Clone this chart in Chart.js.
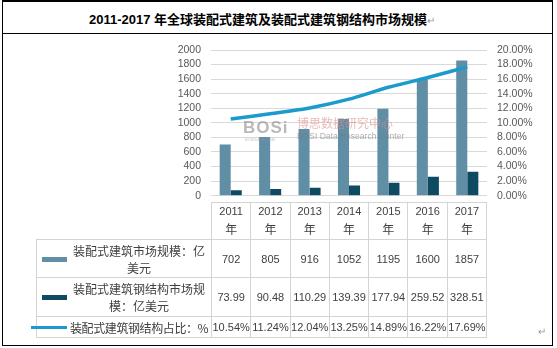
<!DOCTYPE html>
<html>
<head>
<meta charset="utf-8">
<script src="https://cdn.jsdelivr.net/npm/chart.js@4/dist/chart.umd.min.js"></script>
<style>
  body { margin: 0; background: #fff; width: 557px; height: 348px; overflow: hidden; }
  #frame { position: absolute; left: 2px; top: 0px; width: 549px; height: 343px;
           border: 1px solid #000; border-top-width: 2px; }
  #title { position: absolute; left: 89px; top: 9px; white-space: nowrap;
           font: bold 13px "Liberation Sans", "Noto Sans CJK SC", sans-serif; color: #000; }
  #title span, #ret { color: #999; font-weight: normal; font-size: 10px; }
  #sep { position: absolute; left: 2px; top: 33px; width: 551px; height: 1px; background: #000; }
  #wrap { position: absolute; left: 0; top: 0; width: 557px; height: 212px; }
  #tbl { position: absolute; left: 36px; top: 202px; border-collapse: collapse; table-layout: fixed;
         font: 11px "Liberation Sans", "Noto Sans CJK SC", sans-serif; color: #404040; }
  #tbl td { border: 1px solid #d4d4d4; text-align: center; padding: 0; }
  #tbl td.lab { text-align: left; font: 12px "Noto Sans CJK SC", sans-serif; line-height: 17px; }
  #tbl tr.head td { line-height: 17px; }
  #tbl tr.head td.blank { border: none; border-right: 1px solid #d4d4d4; }
  .lab > div { display: flex; align-items: center; }
  .sym { width: 33px; flex: none; position: relative; height: 10px; }
  .txt { width: 138px; text-align: center; white-space: nowrap; }
  .txt.corto { letter-spacing: -0.4px; text-align: left; }
  #ret { position: absolute; left: 538px; top: 326px; }
  #wm { position: absolute; left: 243px; top: 116px; width: 150px; height: 28px; opacity: 0.6; }
  #wm div { white-space: nowrap; }
</style>
</head>
<body>
<div id="frame"></div>
<div id="title">2011-2017 年全球装配式建筑及装配式建筑钢结构市场规模<span>↵</span></div>
<div id="sep"></div>
<div id="wrap"><canvas id="grafico"></canvas></div>
<div id="wm">
  <div style="position:absolute;left:0;top:2px;font:bold 17px 'Liberation Sans',sans-serif;color:#8a8a8a;letter-spacing:1px;">BOSi</div>
  <div style="position:absolute;left:2px;top:21px;font:4px 'Liberation Sans',sans-serif;color:#999;">BOSIDATA.COM</div>
  <div style="position:absolute;left:54px;top:0px;font:12px 'Noto Sans CJK SC',sans-serif;color:#df8c8c;line-height:14px;">博思数据研究中心</div>
  <div style="position:absolute;left:54px;top:15px;font:8.5px 'Liberation Sans',sans-serif;color:#7a7a7a;line-height:10px;">BOSI Data Research Center</div>
</div>
<table id="tbl"></table>
<div id="ret">↵</div>
<script>
Chart.defaults.color = '#595959';
Chart.defaults.font.family = '"Liberation Sans", sans-serif';
Chart.defaults.font.size = 10.5;

const años = ['2011', '2012', '2013', '2014', '2015', '2016', '2017'];
const mercado = [702, 805, 916, 1052, 1195, 1600, 1857];
const acero = [73.99, 90.48, 110.29, 139.39, 177.94, 259.52, 328.51];
const porcentaje = [10.54, 11.24, 12.04, 13.25, 14.89, 16.22, 17.69];

const nombres = ['装配式建筑市场规模：亿美元', '装配式建筑钢结构市场规模：亿美元', '装配式建筑钢结构占比：%'];
const colores = ['#5f8ea5', '#0e4b62', '#1b9bcc'];

const fmtPct = v => v.toFixed(2) + '%';

const armarTabla = () => {
    const tabla = document.getElementById('tbl');
    let html = '<colgroup><col style="width:175px">';
    años.forEach(() => { html += '<col style="width:39.3px">'; });
    html += '</colgroup>';

    html += '<tr class="head" style="height:36px"><td class="blank"></td>';
    años.forEach(a => { html += '<td>' + a + '<br><span style="font:12px \'Noto Sans CJK SC\'">年</span></td>'; });
    html += '</tr>';

    // etiquetas partidas en dos renglones como en la tabla de datos
    const lineas = [
        ['装配式建筑市场规模：亿', '美元'],
        ['装配式建筑钢结构市场规', '模：亿美元'],
        ['装配式建筑钢结构占比：%']
    ];
    const filas = [mercado.map(String), acero.map(v => v.toFixed(2)), porcentaje.map(fmtPct)];
    const alturas = [38, 39, 21];

    filas.forEach((fila, i) => {
        let sym;
        if (i < 2) {
            sym = '<div class="sym"><div style="position:absolute;left:5px;top:3px;width:25px;height:5px;background:' + colores[i] + '"></div></div>';
        } else {
            sym = '<div class="sym"><div style="position:absolute;left:-6px;top:4px;width:36px;height:3px;background:' + colores[i] + '"></div></div>';
        }
        const clase = i === 2 ? 'txt corto' : 'txt';
        html += '<tr style="height:' + alturas[i] + 'px"><td class="lab"><div>' + sym +
            '<div class="' + clase + '">' + lineas[i].join('<br>') + '</div></div></td>';
        fila.forEach(v => { html += '<td>' + v + '</td>'; });
        html += '</tr>';
    });
    tabla.innerHTML = html;
};

const graficoMercado = () => {
    const data = {
        labels: años,
        datasets: [{
            type: 'line',
            label: nombres[2],
            data: porcentaje,
            yAxisID: 'y2',
            borderColor: colores[2],
            borderWidth: 3.5,
            pointRadius: 0,
            tension: 0.25,
            order: 0
        }, {
            type: 'bar',
            label: nombres[0],
            data: mercado,
            yAxisID: 'y',
            backgroundColor: colores[0],
            categoryPercentage: 0.56,
            barPercentage: 1,
            order: 1
        }, {
            type: 'bar',
            label: nombres[1],
            data: acero,
            yAxisID: 'y',
            backgroundColor: colores[1],
            categoryPercentage: 0.56,
            barPercentage: 1,
            order: 1
        }]
    };

    const options = {
        responsive: false,
        animation: false,
        plugins: {
            legend: { display: false },
            tooltip: { enabled: false }
        },
        layout: {
            padding: { top: 50, bottom: 4, left: 0, right: 0 }
        },
        scales: {
            x: { display: false, offset: true },
            y: {
                position: 'left',
                min: 0, max: 2000,
                ticks: { stepSize: 200, padding: 10, autoSkip: false, callback: v => String(v) },
                grid: { color: '#d9d9d9', drawTicks: false },
                border: { display: false },
                afterFit: s => { s.width = 211; }
            },
            y2: {
                position: 'right',
                min: 0, max: 20,
                ticks: { stepSize: 2, padding: 10, autoSkip: false, callback: v => v.toFixed(2) + '%' },
                grid: { display: false, drawTicks: false },
                border: { display: false },
                afterFit: s => { s.width = 70; }
            }
        }
    };

    const canvas = document.getElementById('grafico');
    canvas.width = 557;
    canvas.height = 212;
    new Chart(canvas, { data, options });
};

armarTabla();
graficoMercado();
</script>
</body>
</html>
